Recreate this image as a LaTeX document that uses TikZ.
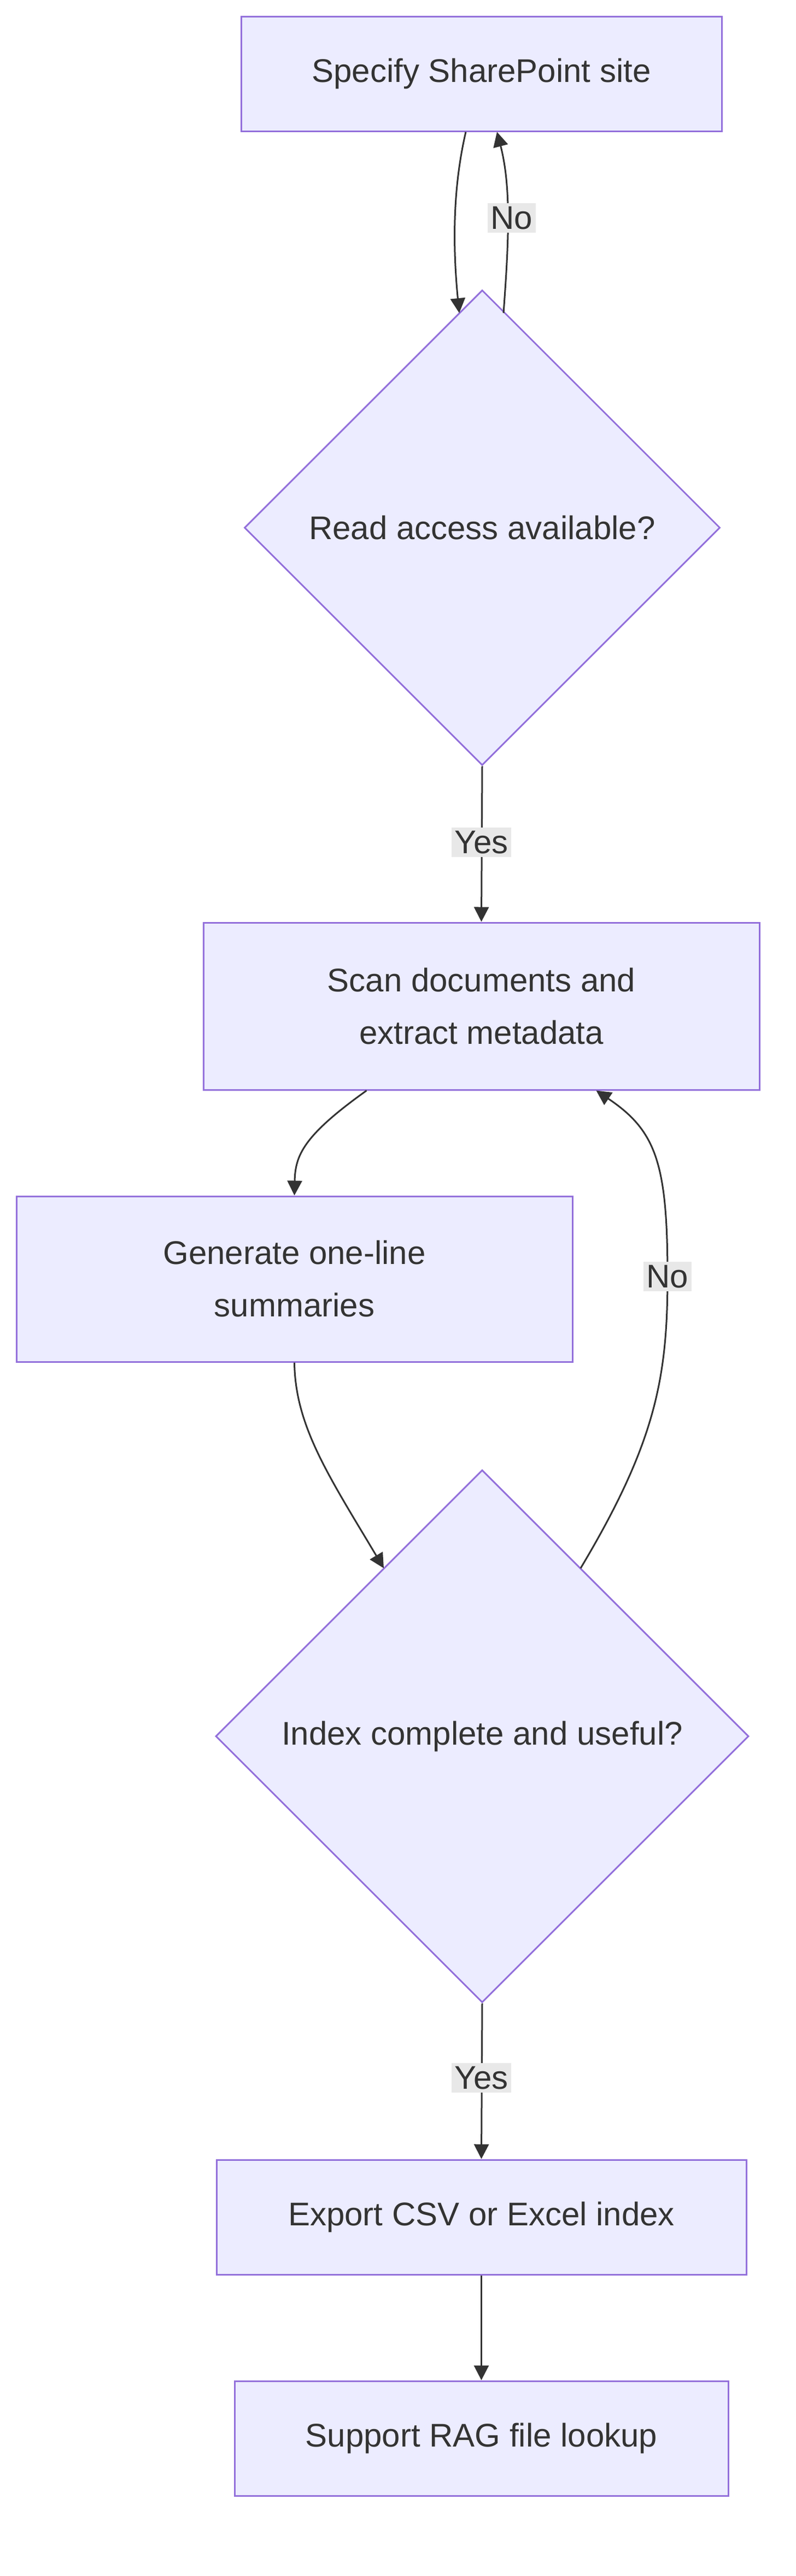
\documentclass[tikz,border=0pt]{standalone}
\usepackage{fontspec}
\setmainfont{Liberation Sans}
\usetikzlibrary{shapes.geometric,arrows.meta}
\definecolor{boxfill}{HTML}{ECECFF}
\definecolor{boxline}{HTML}{9370DB}
\definecolor{ink}{HTML}{333333}
\definecolor{lblbg}{HTML}{E8E8E8}
\begin{document}
\begin{tikzpicture}[x=1pt,y=-1pt,font=\fontsize{20}{32}\selectfont,text=ink,
  stage/.style={draw=boxline,fill=boxfill,line width=1pt,align=center,inner sep=0pt},
  check/.style={stage,shape=diamond,aspect=1,minimum size=#1},
  flow/.style={draw=ink,line width=1pt,-{Triangle[length=9pt,width=9pt]}},
  lbl/.style={fill=lblbg,inner sep=2pt}]
\useasboundingbox (0,0) rectangle (485.33,1572);
% boxes and checks
\node[stage,minimum width=293,minimum height=70] (site) at (293.5,45) {Specify SharePoint site};
\node[check=290] (access) at (294,322) {Read access available?};
\node[stage,minimum width=339,minimum height=102] (scan) at (293.5,614) {Scan documents and\\extract metadata};
\node[stage,minimum width=339,minimum height=101] (summ) at (179.5,780.5) {Generate one-line\\summaries};
\node[check=325] (index) at (294,1059.5) {Index complete and useful?};
\node[stage,minimum width=323,minimum height=70] (export) at (293.5,1353) {Export CSV or Excel index};
\node[stage,minimum width=301,minimum height=70] (rag) at (293.5,1488) {Support RAG file lookup};
% connectors
\draw[flow] ([xshift=-9.5pt]site.south) .. controls (276,115) and (276,150) .. (280,191);
\draw[flow] (307,191) .. controls (310,150) and (312,115) .. ([xshift=9.5pt]site.south);
\node[lbl] (no1) at (312,133) {No};
\draw[flow] (access.south) -- (scan.north);
\node[lbl] (yes1) at (293.5,514) {Yes};
\draw[flow] ([xshift=-70pt]scan.south) .. controls (185,693) and (180,705) .. (summ.north);
\draw[flow] (summ.south) .. controls (180,870) and (200,900) .. (234,957);
\draw[flow] (354,957) .. controls (400,880) and (407,840) .. (407,779) .. controls (407,710) and (400,690) .. ([xshift=70pt]scan.south);
\node[lbl] (no2) at (407,779) {No};
\draw[flow] (index.south) -- (export.north);
\node[lbl] (yes2) at (293.5,1268) {Yes};
\draw[flow] (export.south) -- (rag.north);
\end{tikzpicture}
\end{document}
